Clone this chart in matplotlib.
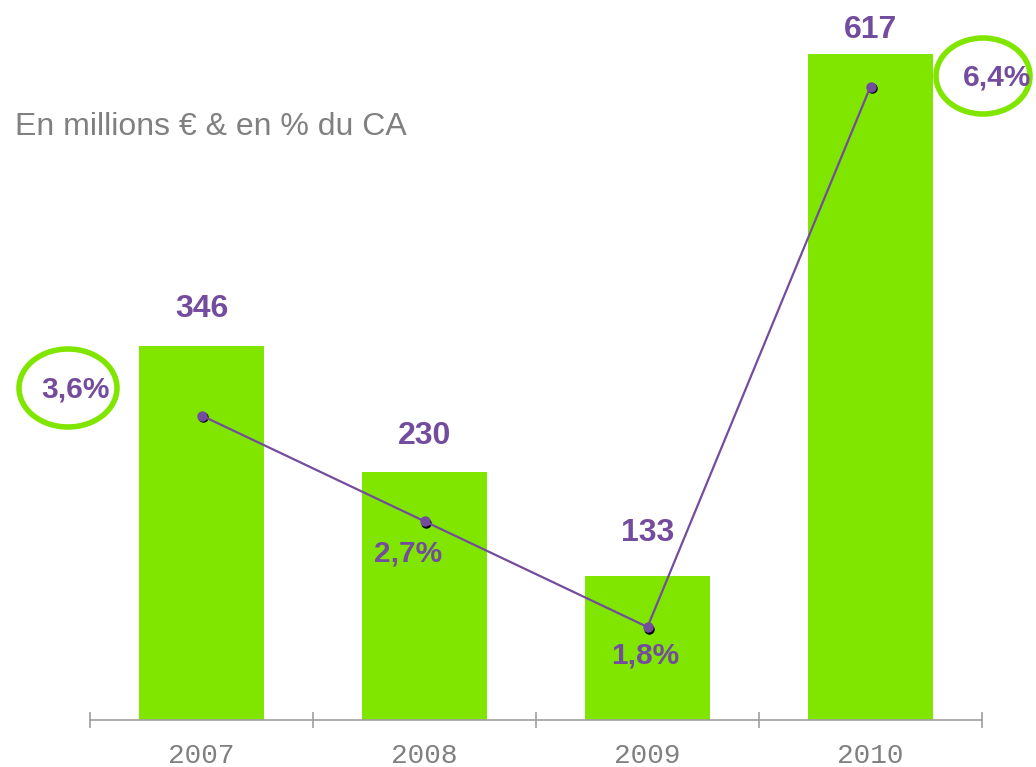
import matplotlib
matplotlib.use("Agg")
import matplotlib.pyplot as plt
import matplotlib.transforms as mtransforms
from matplotlib.patches import Ellipse

years = ["2007", "2008", "2009", "2010"]
values = [346, 230, 133, 617]
percents = [3.6, 2.7, 1.8, 6.4]
percent_labels = ["3,6%", "2,7%", "1,8%", "6,4%"]

GREEN = "#80e600"
PURPLE = "#744c9e"
GRAY = "#808080"

W, H = 1036, 767
fig = plt.figure(figsize=(W / 100, H / 100), dpi=100)
ax = fig.add_axes([90 / W, 47 / H, 892 / W, 720 / H])
ax2 = ax.twinx()

x = list(range(len(years)))
ax.bar(x, values, width=0.56, color=GREEN, zorder=2)
ax.set_xlim(-0.5, len(years) - 0.5)
ax.set_ylim(0, 720 / 1.08)

for s in ["top", "right", "left"]:
    ax.spines[s].set_visible(False)
    ax2.spines[s].set_visible(False)
ax2.spines["bottom"].set_visible(False)
ax.spines["bottom"].set_color("#a0a0a0")
ax.spines["bottom"].set_linewidth(1.2)
ax.set_yticks([])
ax2.set_yticks([])
ax.set_xticks([i - 0.5 for i in range(len(years) + 1)])
ax.set_xticklabels([])
ax.tick_params(axis="x", direction="inout", length=11, width=1.2, color="#a0a0a0")
for i, y in enumerate(years):
    ax.text(i, -36 / 1.08, y, ha="center", va="center", family="Liberation Mono",
            fontsize=20, color=GRAY)

# line on secondary axis
ax2.set_ylim((838.5 - 720) / 117.5, 838.5 / 117.5)
shadow = ax2.transData + mtransforms.ScaledTranslation(1.5 / 100, -1.5 / 100, fig.dpi_scale_trans)
ax2.plot(x, percents, linestyle="none", marker="o", markersize=6.5, color="black",
         transform=shadow, zorder=3)
ax2.plot(x, percents, color=PURPLE, linewidth=1.6, marker="o", markersize=6.5,
         markerfacecolor=PURPLE, markeredgecolor=PURPLE, zorder=4)

# value labels
val_offsets = [37, 36, 43, 24]
for i, v in enumerate(values):
    ax.annotate(str(v), (i, v), xytext=(0, val_offsets[i] * 0.72), textcoords="offset points",
                ha="center", va="center", fontsize=23, fontweight="bold", color=PURPLE,
                family="Liberation Sans")

# percent labels (pixel positions)
pct_pos = [(75, 390), (408, 554), (645, 656), (997, 78)]
for (px, py), lab in zip(pct_pos, percent_labels):
    fig.text(px / W, 1 - py / H, lab, ha="center", va="center", fontsize=21.5,
             fontweight="bold", color=PURPLE, family="Liberation Sans", zorder=6)

# ellipses
for cx, cy, ew, eh in [(68, 388, 98, 78), (983, 76, 94, 76)]:
    e = Ellipse((cx / W, 1 - cy / H), ew / W, eh / H, transform=fig.transFigure,
                fill=False, edgecolor=GREEN, linewidth=4, zorder=5)
    fig.patches.append(e)

fig.text(15 / W, 1 - 127 / H, "En millions € & en % du CA", ha="left", va="center",
         fontsize=23, color=GRAY, family="Liberation Sans")

fig.savefig("out.png", dpi=100)
